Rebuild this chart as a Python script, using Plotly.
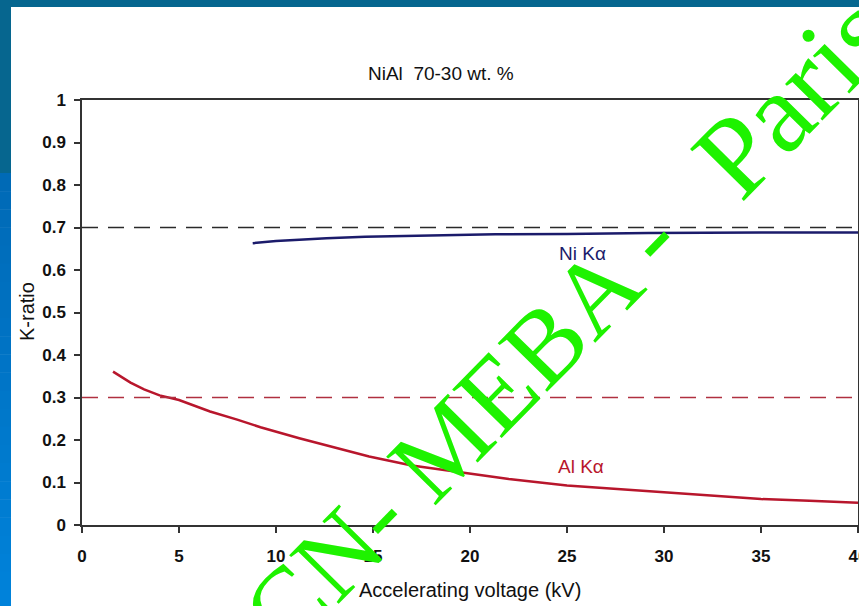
import plotly.graph_objects as go

# Accelerating voltage (kV) and measured K-ratios
al_kv = [1.6, 2.5, 3.2, 4.0, 5.0, 6.6, 8.0, 9.2, 11.2, 13.0, 14.8, 17.0,
         19.8, 22.0, 25.0, 27.5, 30.0, 32.5, 35.0, 37.5, 40.0]
al_k = [0.361, 0.335, 0.319, 0.305, 0.294, 0.267, 0.248, 0.230, 0.204, 0.182,
        0.161, 0.140, 0.122, 0.108, 0.093, 0.085, 0.076, 0.068, 0.061, 0.057,
        0.0525]

ni_kv = [8.8, 10.0, 11.2, 12.6, 14.6, 17.3, 21.3, 25.0, 29.2, 35.0, 40.0]
ni_k = [0.663, 0.668, 0.671, 0.675, 0.678, 0.681, 0.684, 0.685, 0.687, 0.688,
        0.688]

# Nominal concentrations (wt. fraction)
ni_nominal = 0.70
al_nominal = 0.30

x_ticks = [0, 5, 10, 15, 20, 25, 30, 35, 40]
y_ticks = [0, 0.1, 0.2, 0.3, 0.4, 0.5, 0.6, 0.7, 0.8, 0.9, 1.0]
y_ticktext = ["0", "0.1", "0.2", "0.3", "0.4", "0.5", "0.6", "0.7", "0.8", "0.9", "1"]

W, H = 859, 606
ML, MR, MT, MB = 82, 1, 100, 81
PW = W - ML - MR
PH = H - MT - MB


def px(x):
    return (x - ML) / PW


def py(y):
    return (H - MB - y) / PH


NI_COLOR = "#1b1b6b"
AL_COLOR = "#b8162c"
GREEN = "#1ef200"

fig = go.Figure()

fig.add_trace(go.Scatter(x=ni_kv, y=ni_k, mode="lines",
                         line=dict(color=NI_COLOR, width=2.5),
                         showlegend=False, hoverinfo="skip"))
fig.add_trace(go.Scatter(x=al_kv, y=al_k, mode="lines",
                         line=dict(color=AL_COLOR, width=2.5),
                         showlegend=False, hoverinfo="skip"))

shapes = []
# nominal concentration reference lines
shapes.append(dict(type="line", xref="paper", yref="y", x0=0, x1=1,
                   y0=ni_nominal, y1=ni_nominal,
                   line=dict(color="#2a2a2a", width=1.5, dash="16px,10px")))
shapes.append(dict(type="line", xref="paper", yref="y", x0=0, x1=1,
                   y0=al_nominal, y1=al_nominal,
                   line=dict(color="#b03040", width=1.5, dash="16px,10px")))

# slide frame: dark band along the top and upper left, lighter blue below
frame_dark = "#06668f"
shapes.append(dict(type="rect", xref="paper", yref="paper",
                   x0=px(0), x1=px(W), y0=py(7), y1=py(-2),
                   fillcolor=frame_dark, line=dict(width=0), layer="above"))
shapes.append(dict(type="rect", xref="paper", yref="paper",
                   x0=px(-2), x1=px(11), y0=py(173), y1=py(-2),
                   fillcolor=frame_dark, line=dict(width=0), layer="above"))
c0 = (0x00, 0x6a, 0xb6)
c1 = (0x00, 0x82, 0xda)
n_strips = 24
top, bottom = 173, H + 2
for i in range(n_strips):
    t = i / (n_strips - 1)
    col = "rgb({},{},{})".format(*[round(a + (b - a) * t) for a, b in zip(c0, c1)])
    y_a = top + (bottom - top) * i / n_strips
    y_b = top + (bottom - top) * (i + 1) / n_strips + 0.5
    shapes.append(dict(type="rect", xref="paper", yref="paper",
                       x0=px(-2), x1=px(11), y0=py(y_b), y1=py(y_a),
                       fillcolor=col, line=dict(width=0), layer="above"))


def note(text, x, y, size, color, family="Liberation Sans", angle=0, ref="paper"):
    return dict(text=text, x=x, y=y, xref="paper" if ref == "paper" else "x",
                yref="paper" if ref == "paper" else "y",
                xanchor="center", yanchor="middle", showarrow=False,
                textangle=angle, font=dict(family=family, size=size, color=color))


wm_font, wm_angle = "Liberation Serif", -45.5

annotations = [
    note("NiAl  70-30 wt. %", px(441), py(74), 19, "#111111"),
    note("K-ratio", px(27), py(312), 20, "#111111", angle=-90),
    note("Accelerating voltage (kV)", px(470), py(590), 20, "#111111"),
    note("Ni Kα", 25.8, 0.638, 19, NI_COLOR, ref="data"),
    note("Al Kα", 25.7, 0.137, 19, AL_COLOR, ref="data"),
    # diagonal watermark
    note("CN- MEBA -", px(461), py(428), 106, GREEN, family=wm_font, angle=wm_angle),
    note("Paris", px(793), py(95), 114, GREEN, family=wm_font, angle=wm_angle),
]

axis_font = dict(family="Liberation Sans", size=17, color="#111111", weight="bold")

fig.update_layout(
    width=W, height=H,
    margin=dict(l=ML, r=MR, t=MT, b=MB, pad=0, autoexpand=False),
    paper_bgcolor="white", plot_bgcolor="white",
    shapes=shapes, annotations=annotations,
    xaxis=dict(range=[0, 40], tickvals=x_ticks, ticktext=[str(v) for v in x_ticks],
               ticks="outside", ticklen=6, tickwidth=1.5, tickcolor="#333333",
               showline=True, linecolor="#333333", linewidth=1.5, mirror=True,
               showgrid=False, zeroline=False, tickfont=axis_font,
               ticklabelstandoff=9, ticklabeloverflow="allow",
               automargin=False, fixedrange=True),
    yaxis=dict(range=[0, 1], tickvals=y_ticks, ticktext=y_ticktext,
               ticks="outside", ticklen=6, tickwidth=1.5, tickcolor="#333333",
               showline=True, linecolor="#333333", linewidth=1.5, mirror=True,
               showgrid=False, zeroline=False, tickfont=axis_font,
               ticklabelstandoff=5, automargin=False, fixedrange=True),
)

fig.write_html("out.html", include_plotlyjs=True, config={"displayModeBar": False})
